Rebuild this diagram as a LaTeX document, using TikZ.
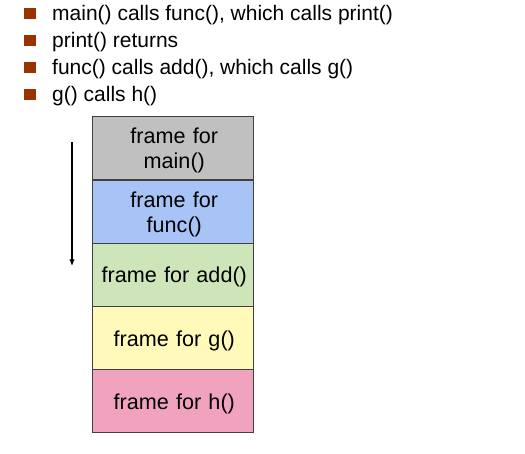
\documentclass[tikz,border=0pt]{standalone}
\usepackage{fontspec}
\setmainfont{Liberation Sans}
\usetikzlibrary{arrows.meta}
\definecolor{bulletc}{HTML}{993300}
\definecolor{fmain}{HTML}{C0C0C0}
\definecolor{ffunc}{HTML}{A8C4F6}
\definecolor{fadd}{HTML}{CDE5B8}
\definecolor{fg}{HTML}{FFF9BA}
\definecolor{fh}{HTML}{F1A2BF}
\definecolor{edge}{HTML}{404040}
\tikzset{
  bullettext/.style={anchor=base west, inner sep=0pt, font=\fontsize{21}{25}\selectfont},
  bulletsq/.style={fill=bulletc, draw=none, minimum width=12pt, minimum height=11pt, inner sep=0pt},
  framebox/.style={draw=edge, line width=1pt, minimum width=161pt, minimum height=63.2pt, inner sep=0pt},
  frametext/.style={inner sep=0pt, text width=155pt, align=center, font=\fontsize{21.6}{25}\selectfont},
  growarrow/.style={line width=1.3pt, -{Latex[length=6.5pt,width=5.5pt]}}
}
\begin{document}
\begin{tikzpicture}[x=1pt,y=-1pt]
\useasboundingbox (0,0) rectangle (525,454);
% bullets
\node[bulletsq] (b1) at (30,14) {};
\node[bulletsq] (b2) at (30,41) {};
\node[bulletsq] (b3) at (30,68) {};
\node[bulletsq] (b4) at (30,95) {};
\node[bullettext] (t1) at (52,20.2) {main() calls func(), which calls print()};
\node[bullettext] (t2) at (52,47.4) {print() returns};
\node[bullettext] (t3) at (52,74.6) {func() calls add(), which calls g()};
\node[bullettext] (t4) at (52,101.8) {g() calls h()};
% frames
\node[framebox, fill=fmain] (fm) at (172.8,148.35) {};
\node[framebox, fill=ffunc] (ff) at (172.8,211.65) {};
\node[framebox, fill=fadd] (fa) at (172.8,274.85) {};
\node[framebox, fill=fg] (fgx) at (172.8,338.05) {};
\node[framebox, fill=fh] (fhx) at (172.8,401.25) {};
\node[frametext] (fmt) at ([xshift=1.5pt,yshift=-2.5pt]fm.center) {frame for\\main()};
\node[frametext] (fft) at ([xshift=1.5pt,yshift=-2.5pt]ff.center) {frame for\\func()};
\node[frametext] (fat) at ([xshift=1.5pt,yshift=-2.5pt]fa.center) {frame for add()};
\node[frametext] (fgt) at ([xshift=1.5pt,yshift=-2.5pt]fgx.center) {frame for g()};
\node[frametext] (fht) at ([xshift=1.5pt,yshift=-2.5pt]fhx.center) {frame for h()};
% arrow
\coordinate (as) at (72,142);
\coordinate (ae) at (72,266);
\draw[growarrow] (as) -- (ae);
\end{tikzpicture}
\end{document}
